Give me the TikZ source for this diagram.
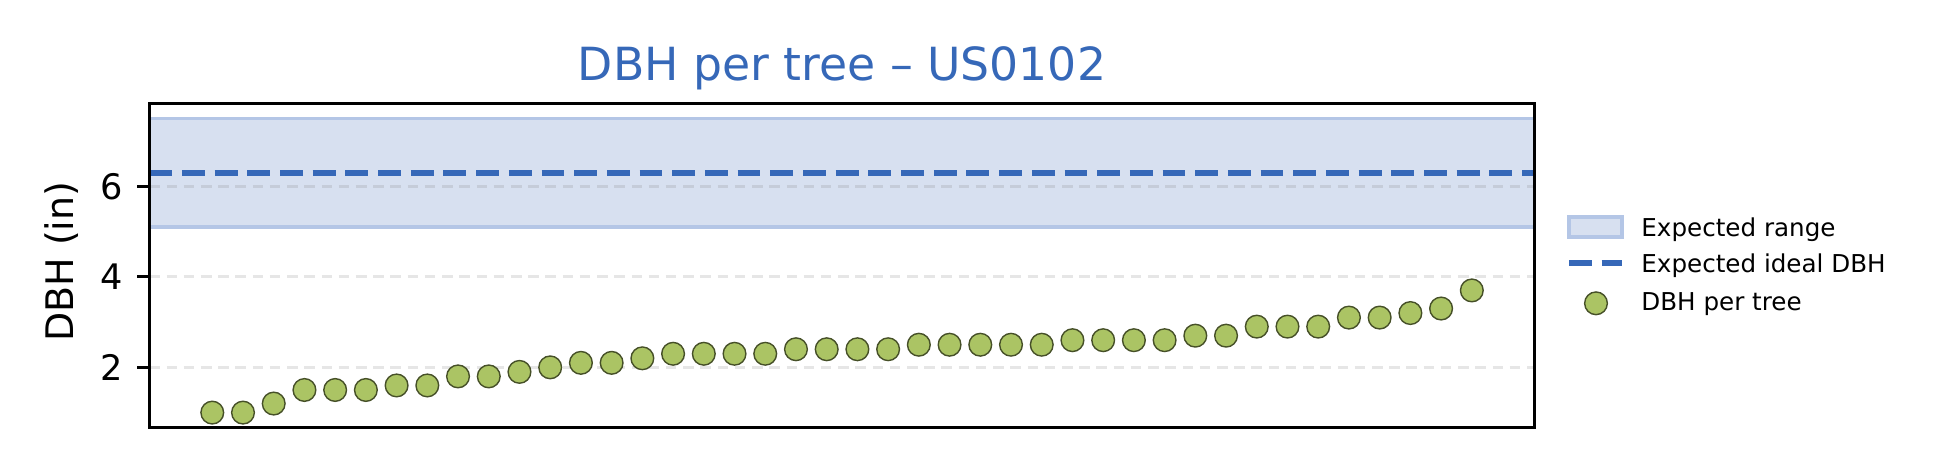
\documentclass[tikz,border=0pt]{standalone}
\usepackage{fontspec}
\setmainfont{DejaVu Sans}
\usepackage{tikz}
\usetikzlibrary{calc}
\definecolor{dbhblue}{RGB}{54,104,184}
\definecolor{bandfill}{RGB}{215,224,240}
\definecolor{bandedge}{RGB}{180,198,230}
\definecolor{gridgray}{RGB}{128,128,128}
\definecolor{treegreen}{RGB}{171,196,100}
\definecolor{treeedge}{RGB}{70,80,40}
\tikzset{
    every node/.style={font=\fontsize{10}{12}\selectfont},
    tree dot/.style={circle,draw=treeedge,fill=treegreen,line width=0.4pt,minimum size=2.27mm,inner sep=0pt},
    ideal line/.style={dbhblue,line width=1.6pt,dash pattern=on 6.5pt off 2.8pt},
    grid line/.style={gridgray,draw opacity=0.2,line width=0.9pt,dash pattern=on 3pt off 1.9pt},
    range band/.style={fill=bandfill,draw=bandedge,line width=0.9pt},
    legend text/.style={font=\fontsize{7}{8.4}\selectfont,anchor=base west,inner sep=0pt}
}

\begin{document}
\begin{tikzpicture}[
            line width = 0.8pt % axes and ticks
        ]
        \useasboundingbox (0,0) rectangle (19.47,4.72);

        % plot area, in data units
        \begin{scope}[shift={(2.1228,0.1416)}, x=0.3072cm, y=0.4525cm]
            \coordinate (ll) at (-2.05,0.675);
            \coordinate (ur) at (43.05,7.825);

            \draw[range band] (-2.05,5.1) rectangle (43.05,7.5);
            \draw[grid line] (-2.05,2) -- (43.05,2);
            \draw[grid line] (-2.05,4) -- (43.05,4);
            \draw[grid line] (-2.05,6) -- (43.05,6);
            \draw[ideal line] (-2.05,6.3) -- (43.05,6.3);

            \foreach \v [count=\i from 0] in {1.0,1.0,1.2,1.5,1.5,1.5,1.6,1.6,1.8,1.8,1.9,2.0,2.1,2.1,
                    2.2,2.3,2.3,2.3,2.3,2.4,2.4,2.4,2.4,2.5,2.5,2.5,2.5,2.5,2.6,2.6,2.6,2.6,
                    2.7,2.7,2.9,2.9,2.9,3.1,3.1,3.2,3.3,3.7}
                \node[tree dot] (t\i) at (\i,\v) {};

            \draw (ll) rectangle (ur);
            \foreach \t in {2,4,6}
                \draw (-2.05,\t) -- ++(-3.5pt,0) node[anchor=east, inner sep=0pt, xshift=-3.5pt] (tick\t) {\t};
        \end{scope}

        \node[rotate=90, anchor=base, font=\fontsize{10.8}{13}\selectfont] (ylab) at (0.733,2.103) {DBH (in)};
        \node[anchor=base, font=\fontsize{13}{15}\selectfont, text=dbhblue] (title) at (8.42,3.92) {DBH per tree – US0102};

        % legend
        \node[range band, minimum width=0.53cm, minimum height=0.2cm, inner sep=0pt] (keyrange) at (15.955,2.45) {};
        \coordinate (keyl) at (15.69,2.087);
        \coordinate (keyr) at (16.22,2.087);
        \draw[ideal line] (keyl) -- (keyr);
        \node[tree dot] (keydot) at (15.96,1.687) {};
        \node[legend text] (txtrange) at (16.40,2.353) {Expected range};
        \node[legend text] (txtideal) at (16.40,1.993) {Expected ideal DBH};
        \node[legend text] (txttree) at (16.40,1.620) {DBH per tree};

  \end{tikzpicture}
\end{document}
